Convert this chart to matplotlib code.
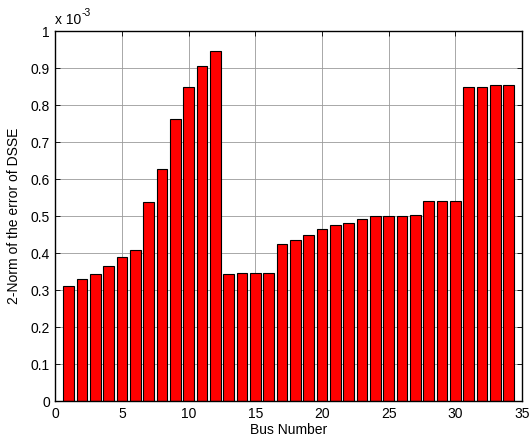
import matplotlib
matplotlib.use("Agg")
from matplotlib import pyplot as plt
import numpy as np

plt.rcParams['font.family'] = ['Liberation Sans', 'DejaVu Sans']

# bus numbers and DSSE error norm (in units of 1e-3)
buses = np.arange(1, 35)
err_norm = [0.312, 0.330, 0.343, 0.365, 0.388, 0.408, 0.537, 0.626, 0.762, 0.850,
            0.905, 0.946, 0.343, 0.347, 0.347, 0.347, 0.423, 0.435, 0.450, 0.465,
            0.477, 0.482, 0.491, 0.500, 0.500, 0.500, 0.503, 0.540, 0.540, 0.540,
            0.850, 0.850, 0.853, 0.853]
xticks = [0, 5, 10, 15, 20, 25, 30, 35]
yticks = [0, 0.1, 0.2, 0.3, 0.4, 0.5, 0.6, 0.7, 0.8, 0.9, 1]

fig = plt.figure(figsize=(5.31, 4.41), dpi=100)
ax = fig.add_axes([0.1045, 0.0907, 0.8785, 0.839])

ax.bar(buses, err_norm, width=0.8, color="red", edgecolor="black", linewidth=0.8, zorder=3)

ax.set_xlim(0, 35)
ax.set_ylim(0, 1)
ax.set_xticks(xticks)
ax.set_yticks(yticks)
ax.set_yticklabels(["0" if t == 0 else ("1" if t == 1 else ("%.1f" % t)) for t in yticks])
ax.grid(True, color="#9a9a9a", linewidth=0.6, zorder=0)
ax.tick_params(direction="in", top=True, right=True, length=3.5, width=0.6, labelsize=10, pad=4)
for s in ax.spines.values():
	s.set_linewidth(1.0)
	s.set_zorder(4)

ax.set_xlabel("Bus Number", fontsize=10, labelpad=2)
ax.set_ylabel("2-Norm of the error of DSSE", fontsize=10, labelpad=7)
# MATLAB-style exponent label
fig.text(55 / 531, 1 - 24 / 441, "x 10", fontsize=10, ha="left", va="baseline")
fig.text(82 / 531, 1 - 16 / 441, "-3", fontsize=7.5, ha="left", va="baseline")

fig.savefig("out.png", dpi=100)
